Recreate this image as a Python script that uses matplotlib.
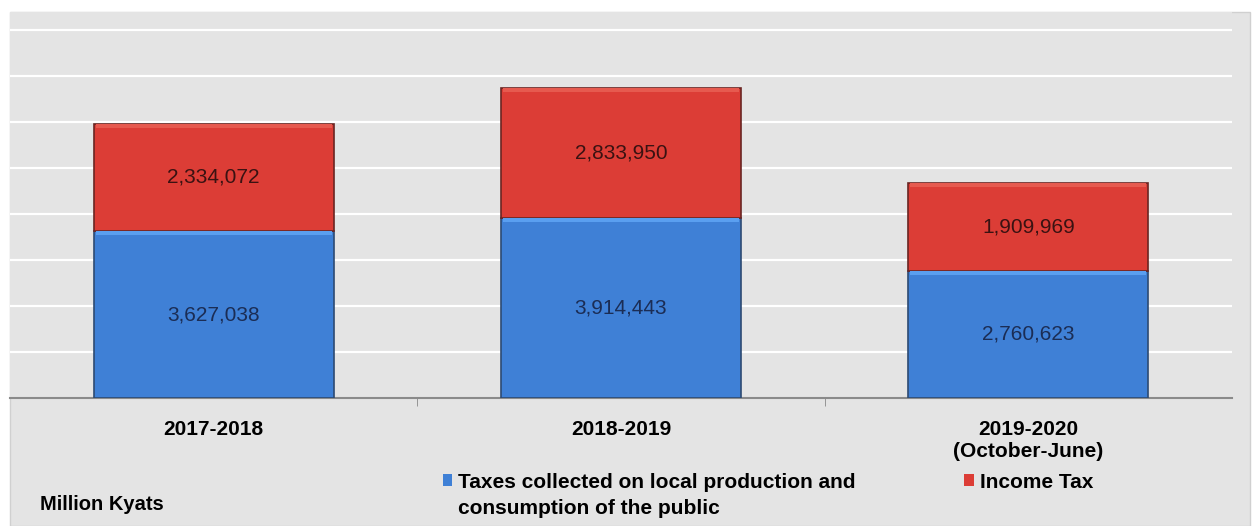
import numpy as np
import matplotlib
matplotlib.use('Agg')
import matplotlib.pyplot as plt
from matplotlib.patches import Rectangle, Patch

plt.rcParams['font.family'] = ['Liberation Sans', 'DejaVu Sans']

# data (million kyats)
years = ["2017-2018", "2018-2019", "2019-2020\n(October-June)"]
local_taxes = [3627038, 3914443, 2760623]
income_tax = [2334072, 2833950, 1909969]
series_names = ["Taxes collected on local production and", "Income Tax"]
series_name_cont = "consumption of the public"

blue = "#3f80d6"
red = "#dc3d36"
bg = "#e4e4e4"

fig = plt.figure(figsize=(12.56, 5.26), dpi=100)
fig.patch.set_facecolor("white")
# chart area panel
fig.patches.append(Rectangle((10 / 1256, 0), 1240 / 1256, 514 / 526, transform=fig.transFigure,
                             facecolor=bg, edgecolor="#d0d0d0", linewidth=1, zorder=-5))

ax = fig.add_axes([10 / 1256, 128 / 526, 1222 / 1256, 386 / 526])
ax.set_facecolor(bg)

x = np.arange(len(years))
w = 0.59
b1 = ax.bar(x, local_taxes, width=w, color=blue, edgecolor="#2d4a72", linewidth=1.2, zorder=3)
b2 = ax.bar(x, income_tax, width=w, bottom=local_taxes, color=red, edgecolor="#6a2522",
            linewidth=1.2, zorder=3)

# light highlight strip at the top of each segment
hl = 0.09e6
ax.bar(x, [hl] * 3, width=w - 0.01, bottom=np.array(local_taxes) - hl, color="#5a9ff0",
       linewidth=0, zorder=4)
ax.bar(x, [hl] * 3, width=w - 0.01, bottom=np.array(local_taxes) + np.array(income_tax) - hl,
       color="#e65a4f", linewidth=0, zorder=4)

for i in range(len(years)):
    ax.text(x[i], local_taxes[i] / 2, f"{local_taxes[i]:,}", ha="center", va="center",
            fontsize=15, color="#1b2d55", zorder=5)
    ax.text(x[i], local_taxes[i] + income_tax[i] / 2, f"{income_tax[i]:,}", ha="center",
            va="center", fontsize=15, color="#3a1212", zorder=5)

ax.set_xlim(-0.5, 2.5)
ax.set_ylim(0, 8.39e6)
ax.set_yticks(np.arange(1e6, 9e6, 1e6))
ax.yaxis.grid(True, color="white", linewidth=1.6, zorder=1)
ax.set_axisbelow(True)
ax.tick_params(axis="y", left=False, labelleft=False)

ax.set_xticks(x)
ax.set_xticklabels(years, fontsize=15, fontweight="bold", linespacing=1.2)
ax.set_xticks([0.5, 1.5], minor=True)
ax.tick_params(axis="x", which="major", length=0, pad=16)
ax.tick_params(axis="x", which="minor", length=6, color="#888888")
for s in ["top", "right", "left"]:
    ax.spines[s].set_visible(False)
ax.spines["bottom"].set_color("#8a8a8a")
ax.spines["bottom"].set_linewidth(1.5)

# legend: first lines in the legend, wrapped remainder placed under the first entry
handles = [Patch(facecolor=blue, edgecolor="none"), Patch(facecolor=red, edgecolor="none")]
leg = fig.legend(handles, series_names, ncol=2, loc="center left",
                 bbox_to_anchor=(424 / 1256, 1 - 482 / 526),
                 frameon=False, prop={"weight": "bold", "size": 15},
                 handlelength=0.45, handleheight=0.45, handletextpad=0.3, columnspacing=5.2)
fig.canvas.draw()
tb = leg.get_texts()[0].get_window_extent().transformed(fig.transFigure.inverted())
fig.text(tb.x0, tb.y0 - 26 / 526, series_name_cont, fontsize=15, fontweight="bold",
         ha="left", va="bottom")

fig.text(40 / 1256, 1 - 505 / 526, "Million Kyats", fontsize=14.5, fontweight="bold", va="center")

fig.savefig("out.png", dpi=100, facecolor=fig.get_facecolor())
